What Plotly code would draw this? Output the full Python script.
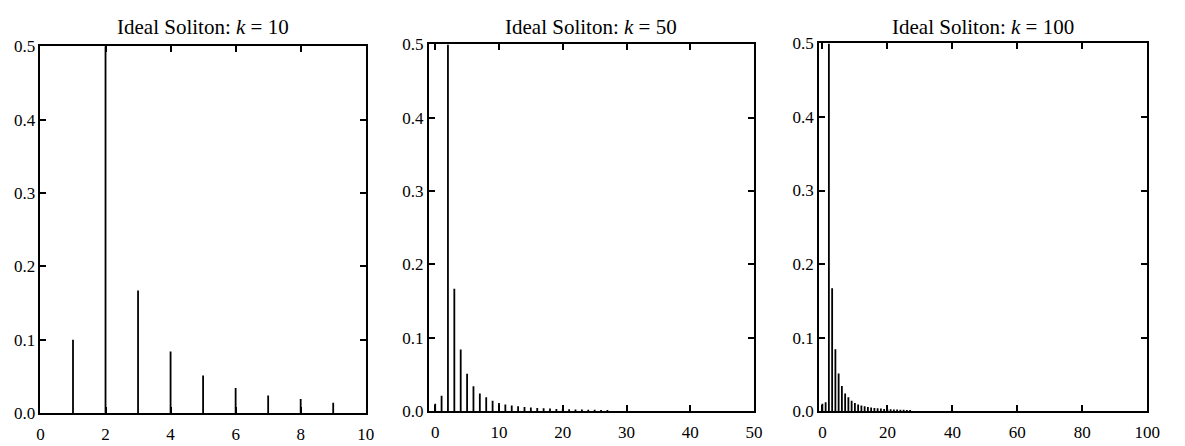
import plotly.graph_objects as go

# Panel 1: k = 10
deg_k10 = [1, 2, 3, 4, 5, 6, 7, 8, 9]
rho_k10 = [0.10, 0.50, 0.167, 0.084, 0.051, 0.034, 0.024, 0.019, 0.014]

# Panel 2: k = 50
deg_k50 = list(range(0, 28))
rho_k50 = [0.010, 0.021, 0.50, 0.167, 0.084, 0.051, 0.034, 0.024, 0.019, 0.014,
           0.011, 0.009, 0.0078, 0.0065, 0.0056, 0.0049, 0.0043, 0.0038, 0.0034,
           0.0030, 0.0027, 0.0025, 0.0023, 0.0021, 0.0019, 0.0018, 0.0016, 0.0015]

# Panel 3: k = 100
deg_k100 = list(range(0, 28))
rho_k100 = [0.010, 0.012, 0.50, 0.167, 0.084, 0.051, 0.034, 0.024, 0.019, 0.014,
            0.011, 0.009, 0.0078, 0.0065, 0.0056, 0.0049, 0.0043, 0.0038, 0.0034,
            0.0030, 0.0027, 0.0025, 0.0023, 0.0021, 0.0019, 0.0018, 0.0016, 0.0015]

titles = ["Ideal Soliton: <i>k</i> = 10", "Ideal Soliton: <i>k</i> = 50", "Ideal Soliton: <i>k</i> = 100"]
x_ticks = [[0, 2, 4, 6, 8, 10], [0, 10, 20, 30, 40, 50], [0, 20, 40, 60, 80, 100]]
y_ticks = [0.0, 0.1, 0.2, 0.3, 0.4, 0.5]
y_tick_labels = ["0.0", "0.1", "0.2", "0.3", "0.4", "0.5"]

W, H = 1185, 446
FONT = "Liberation Serif"

def stems(xs, ys):
    sx, sy = [], []
    for x, y in zip(xs, ys):
        sx += [x, x, None]
        sy += [0, y, None]
    return sx, sy

fig = go.Figure()
data = [(deg_k10, rho_k10), (deg_k50, rho_k50), (deg_k100, rho_k100)]
for i, (xs, ys) in enumerate(data):
    sx, sy = stems(xs, ys)
    sfx = "" if i == 0 else str(i + 1)
    fig.add_trace(go.Scatter(x=sx, y=sy, mode="lines",
                             line=dict(color="black", width=1.8),
                             xaxis="x" + sfx, yaxis="y" + sfx,
                             showlegend=False, hoverinfo="skip"))

# pixel geometry
px_x = [(37, 367), (431, 761), (827, 1160)]
px_y = [(39, 422), (37, 420), (36, 420)]
ranges = [[0, 10], [-1, 50], [-1, 100]]

layout = dict(width=W, height=H, margin=dict(l=0, r=0, t=0, b=0),
              plot_bgcolor="white", paper_bgcolor="white",
              font=dict(family=FONT, size=17, color="black"))
annotations = []
for i in range(3):
    sfx = "" if i == 0 else str(i + 1)
    x0, x1 = px_x[i]
    yt, yb = px_y[i]
    layout["xaxis" + sfx] = dict(
        domain=[x0 / W, x1 / W], range=ranges[i], anchor="y" + sfx,
        tickvals=x_ticks[i], ticks="inside", ticklen=6, tickwidth=1.5,
        tickcolor="black", showline=True, linecolor="black", linewidth=1.8,
        mirror="ticks", showgrid=False, zeroline=False, ticklabelstandoff=5,
        tickfont=dict(family=FONT, size=17))
    layout["yaxis" + sfx] = dict(
        domain=[(H - yb) / H, (H - yt) / H], range=[0, 0.5], anchor="x" + sfx,
        tickvals=y_ticks, ticktext=y_tick_labels, ticks="inside", ticklen=6,
        tickwidth=1.5, tickcolor="black", showline=True, linecolor="black",
        linewidth=1.8, mirror="ticks", showgrid=False, zeroline=False,
        tickfont=dict(family=FONT, size=17))
    annotations.append(dict(text=titles[i], xref="paper", yref="paper",
                            x=(x0 + x1) / 2 / W, y=(H - 4) / H,
                            xanchor="center", yanchor="top", showarrow=False,
                            font=dict(family=FONT, size=21, color="black")))
layout["annotations"] = annotations
fig.update_layout(**layout)
fig.write_html("out.html")
